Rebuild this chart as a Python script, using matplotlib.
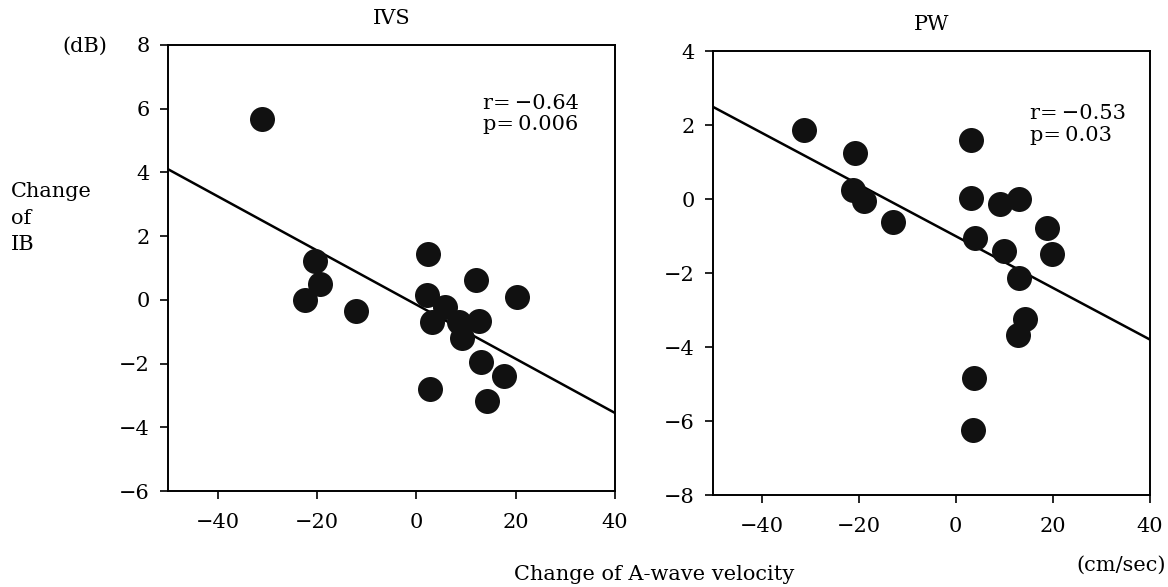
import matplotlib
matplotlib.use("Agg")
import matplotlib.pyplot as plt
import numpy as np

plt.rcParams["font.family"] = ["DejaVu Serif"]

# ---------- data ----------
ivs_x = [-31.1, -20.3, -19.3, -22.4, -12.1, 2.4, 2.2, 5.7, 3.2, 12.0,
         20.2, 12.7, 8.6, 9.3, 13.0, 17.7, 2.8, 14.3]
ivs_y = [5.66, 1.22, 0.51, -0.01, -0.35, 1.45, 0.15, -0.22, -0.69, 0.61,
         0.09, -0.67, -0.69, -1.21, -1.94, -2.39, -2.80, -3.19]
ivs_fit = (-0.15, -0.085)  # intercept, slope

pw_x = [-31.3, -20.8, -21.2, -18.8, -13.0, 3.1, 3.1, 3.9, 9.2, 13.0,
        9.9, 18.8, 19.9, 13.1, 14.3, 12.8, 3.8, 3.6]
pw_y = [1.86, 1.26, 0.24, -0.05, -0.61, 1.59, 0.02, -1.06, -0.12, 0.0,
        -1.40, -0.77, -1.49, -2.12, -3.24, -3.68, -4.83, -6.25]
pw_fit = (-1.0, -0.0699)

xticks = [-40, -20, 0, 20, 40]

fig = plt.figure(figsize=(11.68, 5.87), dpi=100)
ax1 = fig.add_axes([0.1438, 0.1635, 0.3827, 0.760])
ax2 = fig.add_axes([0.6105, 0.1567, 0.3740, 0.756])

panels = [
    (ax1, ivs_x, ivs_y, ivs_fit, (-6, 8), "IVS", "r=\u2009\u22120.64\np=\u20090.006", (0.705, 0.89)),
    (ax2, pw_x, pw_y, pw_fit, (-8, 4), "PW", "r=\u2009\u22120.53\np=\u20090.03", (0.725, 0.88)),
]
for ax, xs, ys, fit, ylim, title, stats, tpos in panels:
    xl = np.array([-50, 40])
    ax.plot(xl, fit[0] + fit[1] * xl, color="black", lw=1.8, zorder=2)
    ax.plot(xs, ys, "o", color="#111111", ms=18, mec="none", zorder=3)
    ax.set_xlim(-50, 40)
    ax.set_ylim(*ylim)
    ax.set_xticks(xticks)
    ax.set_xticklabels([str(t).replace("-", "\u2212") for t in xticks])
    yt = list(range(ylim[0], ylim[1] + 1, 2))
    ax.set_yticks(yt)
    ax.set_yticklabels([str(t).replace("-", "\u2212") for t in yt])
    ax.tick_params(direction="out", length=6, width=1.2, labelsize=15)
    ax.tick_params(axis="x", pad=10)
    ax.tick_params(axis="y", pad=7)
    for s in ax.spines.values():
        s.set_linewidth(1.4)
    ax.set_title(title, fontsize=15, pad=15)
    ax.text(tpos[0], tpos[1], stats, transform=ax.transAxes, fontsize=15,
            va="top", ha="left", linespacing=1.15)

fig.text(0.009, 0.628, "Change\nof\nIB", fontsize=15, ha="left", va="center",
         linespacing=1.5)
fig.text(0.053, 0.922, "(dB)", fontsize=15, ha="left", va="center")
fig.text(0.56, 0.005, "Change of A-wave velocity", fontsize=15, ha="center", va="bottom")
fig.text(0.998, 0.02, "(cm/sec)", fontsize=15, ha="right", va="bottom")

fig.savefig("out.png", dpi=100)
